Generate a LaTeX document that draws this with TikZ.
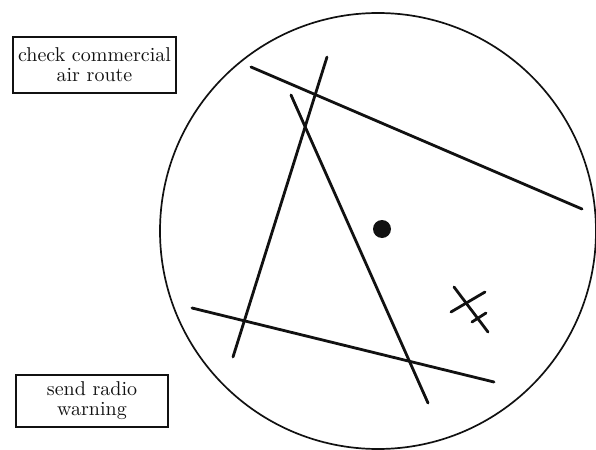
\documentclass[tikz,border=0pt]{standalone}
\usepackage{xcolor}
\definecolor{cInk}{HTML}{111111}
\usepackage{tikz}
\usetikzlibrary{positioning}
\tikzset{
  node-label/.style={draw=cInk,line width=0.9pt,align=center,inner sep=0pt,
    font=\fontsize{10}{10}\selectfont,text=cInk},
  node-scope/.style={draw=cInk,line width=0.85pt,circle,inner sep=0pt},
  track-line/.style={draw=cInk,line width=1.4pt,line cap=round},
  blip/.style={fill=cInk},
}

\begin{document}
\begin{tikzpicture}[x=0.5pt,y=-0.5pt]
  \useasboundingbox (0,0) rectangle (596,450);

  \node[node-label,minimum width=81.5pt,minimum height=28pt] (route) at (94.5,65)
    {check commercial\\air route};
  \node[node-label,minimum width=76pt,minimum height=26pt] (warn) at (92,401)
    {send radio\\warning};

  % radar screen
  \node[node-scope,minimum size=218pt] (scope) at (378,231) {};

  \draw[track-line] (251,67) -- (582,209);
  \draw[track-line] (327,57) -- (233,357);
  \draw[track-line] (291,95) -- (428,403);
  \draw[track-line] (192,308) -- (494,382);

  \fill[blip] (382,229) circle (4.5pt);

  % aircraft mark
  \draw[track-line] (454,287) -- (488,332);
  \draw[track-line] (451,312) -- (485,292);
  \draw[track-line] (472,322) -- (486,313);
\end{tikzpicture}
\end{document}
